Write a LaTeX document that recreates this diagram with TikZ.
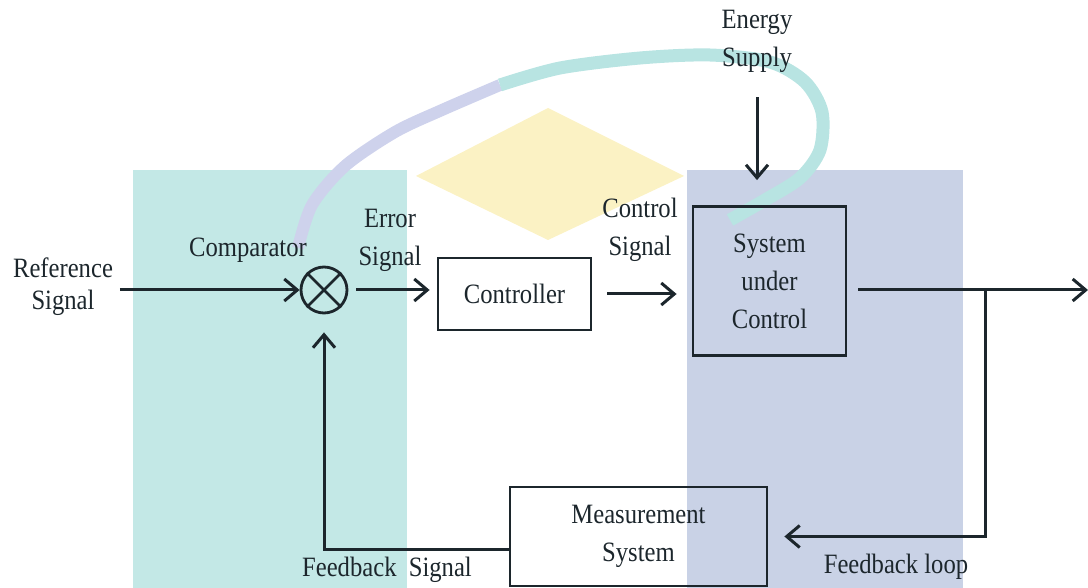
\documentclass[tikz,border=0pt]{standalone}
\usepackage{fontspec}
\setmainfont{Liberation Serif}[FakeStretch=0.88]
\usetikzlibrary{positioning,arrows.meta,calc}
\definecolor{wmteal}{RGB}{195,232,230}
\definecolor{wmblue}{RGB}{201,210,230}
\definecolor{wmyellow}{RGB}{251,242,196}
\definecolor{wmring}{RGB}{184,228,226}
\definecolor{wmlav}{RGB}{206,210,236}
\definecolor{ink}{RGB}{28,38,44}

\begin{document}
\begin{tikzpicture}[x=0.5pt,y=-0.5pt,
	block/.style={draw=ink,line width=1.4pt,inner sep=0pt,align=center,text=ink,font=\fontsize{14}{19}\selectfont},
	sig/.style={draw=ink,line width=1.5pt,-{Straight Barb[length=6.5pt,width=11pt]}},
	lbl/.style={align=center,text=ink,font=\fontsize{14}{19}\selectfont}]
					\useasboundingbox (0,0) rectangle (1088,588);
					% watermark in the background
					\fill[wmteal] (133,170) rectangle (407,588);
					\fill[wmblue] (687,170) rectangle (963,588);
					\fill[wmyellow] (548,108) -- (684,176) -- (548,240) -- (416,176) -- cycle;
					\draw[wmlav,line width=6pt] plot[smooth] coordinates {(298,248) (312,205) (345,166) (395,132) (442,110) (500,85)};
					\draw[wmring,line width=6.5pt] plot[smooth] coordinates {(500,85) (560,68) (640,58) (710,55) (770,62) (805,82) (822,112) (820,150) (800,178) (765,200) (730,220)};
					% blocks
					\node[lbl,font=\fontsize{14}{16}\selectfont] (ref) at (63,287) {Reference\\Signal};
					\node[block,circle,minimum size=23pt] (comp) at (324,290) {};
					\draw[ink,line width=1.4pt] (comp.north west) -- (comp.south east) (comp.north east) -- (comp.south west);
					\node[block,minimum width=76.5pt,minimum height=36pt] (ctrl) at (514.5,294) {Controller};
					\node[block,minimum width=76.5pt,minimum height=74.5pt] (sys) at (769.5,281) {System\\under\\Control};
					\node[block,minimum width=128.5pt,minimum height=49.5pt] (meas) at (638.5,536.5) {Measurement\\System};
					\node[lbl] (energy) at (757,41) {Energy\\Supply};
					\coordinate (out) at (1088,290);
					\coordinate (br) at (985,290);
					% labels
					\node[lbl] (complbl) at (248,250) {Comparator};
					\node[lbl] (errlbl) at (390,240) {Error\\Signal};
					\node[lbl] (ctllbl) at (640,230) {Control\\Signal};
					\node[lbl] (fbslbl) at (387,570) {Feedback\ \ Signal};
					\node[lbl] (fbllbl) at (896,567) {Feedback loop};
					% connectors
					\draw[sig] (ref.east |- comp) -- (comp.west);
					\draw[sig,shorten <=4pt,shorten >=3.5pt] (comp.east) -- (ctrl.west |- comp);
					\draw[sig,shorten <=7.5pt,shorten >=7.5pt] (ctrl.east) -- (sys.west |- ctrl);
					\draw[sig,shorten <=9pt,shorten >=12.5pt] (energy.south) -- (energy.south |- sys.north);
					\draw[sig,shorten <=5.5pt] (sys.east |- out) -- (out);
					\draw[sig,shorten >=8pt] (br) |- (meas.east);
					\draw[sig,shorten >=9pt] ([yshift=-6.5pt]meas.west) -| (comp.south);
\end{tikzpicture}
\end{document}
